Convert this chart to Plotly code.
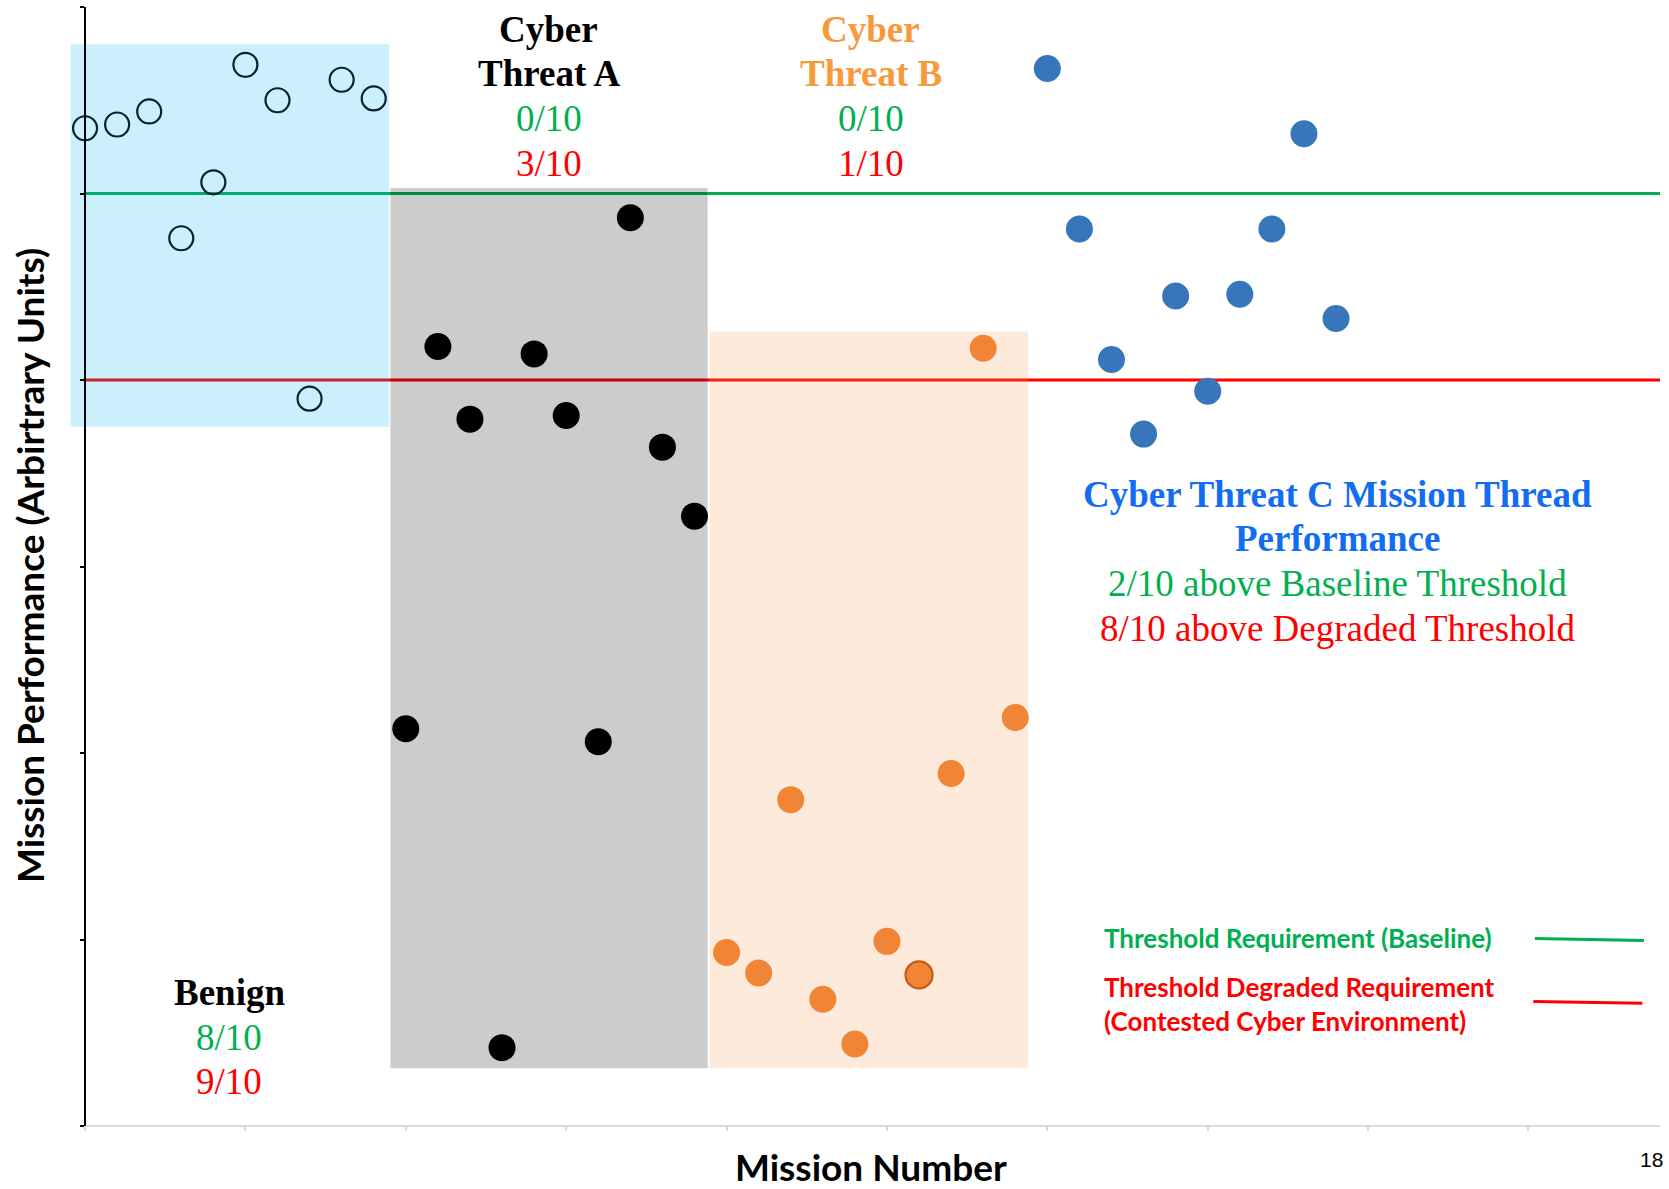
import plotly.graph_objects as go

# ---- data -----------------------------------------------------------------
missions_benign = list(range(1, 11))
missions_a = list(range(11, 21))
missions_b = list(range(21, 31))
missions_c = list(range(31, 41))

perf_benign = [5.35, 5.37, 5.44, 4.76, 5.06, 5.69, 5.50, 3.90, 5.61, 5.51]
perf_a = [2.13, 4.18, 3.79, 0.42, 4.14, 3.81, 2.06, 4.87, 3.64, 3.27]
perf_b = [0.93, 0.82, 1.75, 0.68, 0.44, 0.99, 0.81, 1.89, 4.17, 2.19]
perf_c = [5.67, 4.81, 4.11, 3.71, 4.45, 3.94, 4.46, 4.81, 5.32, 4.33]

baseline_threshold = 5.0
degraded_threshold = 4.0

# shaded scenario bands: (x0, x1, y0, y1) in mission / performance units
band_benign = (0.55, 10.48, 3.75, 5.80)
band_a = (10.52, 20.41, 0.31, 5.03)
band_b = (20.47, 30.41, 0.31, 4.26)

x_range = [0.5, 50.1]
y_range = [0, 6]


def count_above(values, level):
    return sum(1 for v in values if v > level)


def ratio(values, level):
    return f"{count_above(values, level)}/{len(values)}"


GREEN = "#00B050"
RED = "#FF0000"
SERIF = "Liberation Serif, Times New Roman, serif"
SANS = "Lato, Calibri, sans-serif"

fig = go.Figure()

fig.add_trace(go.Scatter(
    x=missions_benign, y=perf_benign, mode="markers", name="Benign",
    marker=dict(symbol="circle-open", size=24, color="#0D2030",
                line=dict(width=2.2, color="#0D2030")),
))
fig.add_trace(go.Scatter(
    x=missions_a, y=perf_a, mode="markers", name="Cyber Threat A",
    marker=dict(size=27, color="#000000", line=dict(width=0)),
))
fig.add_trace(go.Scatter(
    x=missions_b, y=perf_b, mode="markers", name="Cyber Threat B",
    marker=dict(size=27, color="#F08535",
                line=dict(width=[2.2 if i == 6 else 0 for i in range(len(perf_b))],
                          color="#C55A11")),
))
fig.add_trace(go.Scatter(
    x=missions_c, y=perf_c, mode="markers", name="Cyber Threat C",
    marker=dict(size=27, color="#3776BA", line=dict(width=0)),
))

shapes = [
    # threshold lines
    dict(type="line", xref="x", yref="y", x0=missions_benign[0], x1=x_range[1],
         y0=baseline_threshold, y1=baseline_threshold,
         line=dict(color=GREEN, width=3), layer="below"),
    dict(type="line", xref="x", yref="y", x0=missions_benign[0], x1=x_range[1],
         y0=degraded_threshold, y1=degraded_threshold,
         line=dict(color=RED, width=3), layer="below"),
    # translucent scenario bands laid over the threshold lines
    dict(type="rect", xref="x", yref="y", x0=band_benign[0], x1=band_benign[1],
         y0=band_benign[2], y1=band_benign[3],
         fillcolor="rgba(0,176,240,0.2)", line=dict(width=0), layer="below"),
    dict(type="rect", xref="x", yref="y", x0=band_a[0], x1=band_a[1],
         y0=band_a[2], y1=band_a[3],
         fillcolor="rgba(0,0,0,0.2)", line=dict(width=0), layer="below"),
    dict(type="rect", xref="x", yref="y", x0=band_b[0], x1=band_b[1],
         y0=band_b[2], y1=band_b[3],
         fillcolor="rgba(247,150,70,0.2)", line=dict(width=0), layer="below"),
    # horizontal axis baseline starting at the vertical axis
    dict(type="line", xref="x", yref="paper", x0=missions_benign[0], x1=x_range[1],
         y0=0, y1=0, line=dict(color="#D9D9D9", width=2), layer="below"),
    # legend swatches
    dict(type="line", xref="x", yref="y", x0=46.2, x1=49.6, y0=1.005, y1=0.995,
         line=dict(color=GREEN, width=3)),
    dict(type="line", xref="x", yref="y", x0=46.15, x1=49.55, y0=0.668, y1=0.658,
         line=dict(color=RED, width=3)),
]

annotations = []


def label(x, y, text, color, bold=False, size=37, family=SERIF, xanchor="center"):
    annotations.append(dict(
        x=x, y=y, xref="x", yref="y", text=f"<b>{text}</b>" if bold else text,
        showarrow=False, xanchor=xanchor, yanchor="middle",
        font=dict(family=family, size=size, color=color),
    ))


# Benign block
label(5.5, 0.717, "Benign", "#000000", bold=True)
label(5.5, 0.477, ratio(perf_benign, baseline_threshold), GREEN)
label(5.5, 0.238, ratio(perf_benign, degraded_threshold), RED)

# Cyber Threat A block
label(15.45, 5.882, "Cyber", "#000000", bold=True)
label(15.45, 5.642, "Threat A", "#000000", bold=True)
label(15.45, 5.403, ratio(perf_a, baseline_threshold), GREEN)
label(15.45, 5.163, ratio(perf_a, degraded_threshold), RED)

# Cyber Threat B block
label(25.5, 5.882, "Cyber", "#F79A3C", bold=True)
label(25.5, 5.642, "Threat B", "#F79A3C", bold=True)
label(25.5, 5.403, ratio(perf_b, baseline_threshold), GREEN)
label(25.5, 5.163, ratio(perf_b, degraded_threshold), RED)

# Cyber Threat C block
label(40.05, 3.388, "Cyber Threat C Mission Thread", "#136DF2", bold=True)
label(40.05, 3.148, "Performance", "#136DF2", bold=True)
label(40.05, 2.908, f"{ratio(perf_c, baseline_threshold)} above Baseline Threshold", GREEN)
label(40.05, 2.669, f"{ratio(perf_c, degraded_threshold)} above Degraded Threshold", RED)

# legend text
label(32.7, 1.006, "Threshold Requirement (Baseline)", GREEN, bold=True,
      size=26, family=SANS, xanchor="left")
label(32.7, 0.744, "Threshold Degraded Requirement", RED, bold=True,
      size=26, family=SANS, xanchor="left")
label(32.7, 0.561, "(Contested Cyber Environment)", RED, bold=True,
      size=26, family=SANS, xanchor="left")

# axis titles and page number
annotations.append(dict(
    x=0, y=0.5004, xref="paper", yref="paper", xshift=-40, textangle=-90,
    text="<b>Mission Performance (Arbirtrary Units)</b>", showarrow=False,
    xanchor="center", yanchor="middle",
    font=dict(family=SANS, size=37, color="#000000"),
))
annotations.append(dict(
    x=0.504, y=0, xref="paper", yref="paper", yshift=-40,
    text="<b>Mission Number</b>", showarrow=False,
    xanchor="center", yanchor="middle",
    font=dict(family=SANS, size=37, color="#000000"),
))
annotations.append(dict(
    x=1, y=0, xref="paper", yref="paper", xshift=-9, yshift=-33,
    text="18", showarrow=False, xanchor="center", yanchor="middle",
    font=dict(family="Liberation Sans, Arial, sans-serif", size=21, color="#000000"),
))

y_axis_position = (missions_benign[0] - x_range[0]) / (x_range[1] - x_range[0])

fig.update_layout(
    width=1669, height=1189,
    margin=dict(l=69, r=9, t=7, b=63),
    paper_bgcolor="#FFFFFF", plot_bgcolor="#FFFFFF",
    showlegend=False,
    shapes=shapes,
    annotations=annotations,
    xaxis=dict(range=x_range, tick0=missions_benign[0], dtick=5,
               ticks="outside", ticklen=4, tickwidth=1.5, tickcolor="#D9D9D9",
               showticklabels=False, showline=False, showgrid=False, zeroline=False),
    yaxis=dict(range=y_range, dtick=1, tick0=0, anchor="free", position=y_axis_position,
               ticks="outside", ticklen=4, tickwidth=1.5, tickcolor="#000000",
               showticklabels=False, showline=True, linecolor="#000000", linewidth=2,
               showgrid=False, zeroline=False),
)

fig.write_html("out.html", config={"displayModeBar": False})
